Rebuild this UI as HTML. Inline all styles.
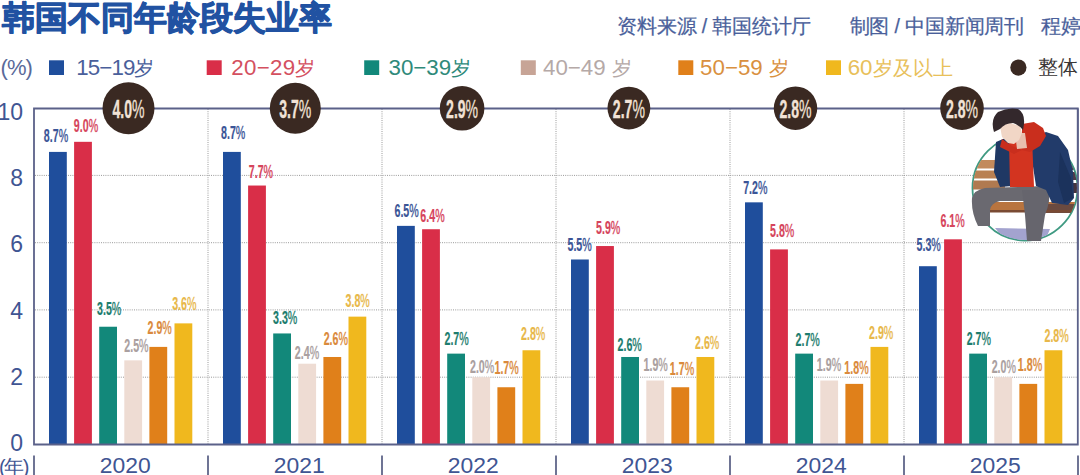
<!DOCTYPE html><html><head><meta charset="utf-8"><style>
html,body{margin:0;padding:0;background:#fff;width:1080px;height:475px;overflow:hidden}
svg{display:block}
text{font-family:"Liberation Sans",sans-serif}
.c{font-weight:bold}
</style></head><body>
<svg width="1080" height="475" viewBox="0 0 1080 475">
<rect width="1080" height="475" fill="#fff"/>
<line x1="35" y1="175.4" x2="1077" y2="175.4" stroke="#9a9a9a" stroke-width="1" stroke-dasharray="1 1.2"/>
<line x1="35" y1="242.7" x2="1077" y2="242.7" stroke="#9a9a9a" stroke-width="1" stroke-dasharray="1 1.2"/>
<line x1="35" y1="309.9" x2="1077" y2="309.9" stroke="#9a9a9a" stroke-width="1" stroke-dasharray="1 1.2"/>
<line x1="35" y1="377.2" x2="1077" y2="377.2" stroke="#9a9a9a" stroke-width="1" stroke-dasharray="1 1.2"/>
<line x1="208" y1="109" x2="208" y2="444" stroke="#9a9a9a" stroke-width="1" stroke-dasharray="1 1.2"/>
<line x1="382" y1="109" x2="382" y2="444" stroke="#9a9a9a" stroke-width="1" stroke-dasharray="1 1.2"/>
<line x1="556" y1="109" x2="556" y2="444" stroke="#9a9a9a" stroke-width="1" stroke-dasharray="1 1.2"/>
<line x1="730" y1="109" x2="730" y2="444" stroke="#9a9a9a" stroke-width="1" stroke-dasharray="1 1.2"/>
<line x1="904" y1="109" x2="904" y2="444" stroke="#9a9a9a" stroke-width="1" stroke-dasharray="1 1.2"/>
<rect x="49.00" y="151.91" width="17.8" height="292.49" fill="#1f4e9c"/>
<rect x="74.10" y="141.82" width="17.8" height="302.58" fill="#d92e48"/>
<rect x="99.20" y="326.73" width="17.8" height="117.67" fill="#12887a"/>
<rect x="124.30" y="360.35" width="17.8" height="84.05" fill="#eedcd3"/>
<rect x="149.40" y="346.90" width="17.8" height="97.50" fill="#e0801a"/>
<rect x="174.50" y="323.37" width="17.8" height="121.03" fill="#f0b81e"/>
<rect x="223.00" y="151.91" width="17.8" height="292.49" fill="#1f4e9c"/>
<rect x="248.10" y="185.53" width="17.8" height="258.87" fill="#d92e48"/>
<rect x="273.20" y="333.45" width="17.8" height="110.95" fill="#12887a"/>
<rect x="298.30" y="363.71" width="17.8" height="80.69" fill="#eedcd3"/>
<rect x="323.40" y="356.99" width="17.8" height="87.41" fill="#e0801a"/>
<rect x="348.50" y="316.64" width="17.8" height="127.76" fill="#f0b81e"/>
<rect x="397.00" y="225.87" width="17.8" height="218.53" fill="#1f4e9c"/>
<rect x="422.10" y="229.23" width="17.8" height="215.17" fill="#d92e48"/>
<rect x="447.20" y="353.63" width="17.8" height="90.77" fill="#12887a"/>
<rect x="472.30" y="377.16" width="17.8" height="67.24" fill="#eedcd3"/>
<rect x="497.40" y="387.25" width="17.8" height="57.15" fill="#e0801a"/>
<rect x="522.50" y="350.26" width="17.8" height="94.14" fill="#f0b81e"/>
<rect x="571.00" y="259.49" width="17.8" height="184.91" fill="#1f4e9c"/>
<rect x="596.10" y="246.04" width="17.8" height="198.36" fill="#d92e48"/>
<rect x="621.20" y="356.99" width="17.8" height="87.41" fill="#12887a"/>
<rect x="646.30" y="380.52" width="17.8" height="63.88" fill="#eedcd3"/>
<rect x="671.40" y="387.25" width="17.8" height="57.15" fill="#e0801a"/>
<rect x="696.50" y="356.99" width="17.8" height="87.41" fill="#f0b81e"/>
<rect x="745.00" y="202.34" width="17.8" height="242.06" fill="#1f4e9c"/>
<rect x="770.10" y="249.40" width="17.8" height="195.00" fill="#d92e48"/>
<rect x="795.20" y="353.63" width="17.8" height="90.77" fill="#12887a"/>
<rect x="820.30" y="380.52" width="17.8" height="63.88" fill="#eedcd3"/>
<rect x="845.40" y="383.88" width="17.8" height="60.52" fill="#e0801a"/>
<rect x="870.50" y="346.90" width="17.8" height="97.50" fill="#f0b81e"/>
<rect x="919.00" y="266.21" width="17.8" height="178.19" fill="#1f4e9c"/>
<rect x="944.10" y="239.32" width="17.8" height="205.08" fill="#d92e48"/>
<rect x="969.20" y="353.63" width="17.8" height="90.77" fill="#12887a"/>
<rect x="994.30" y="377.16" width="17.8" height="67.24" fill="#eedcd3"/>
<rect x="1019.40" y="383.88" width="17.8" height="60.52" fill="#e0801a"/>
<rect x="1044.50" y="350.26" width="17.8" height="94.14" fill="#f0b81e"/>
<path d="M34,108.5 V444.5 H1077.8 V108.5 Z" fill="none" stroke="#5b6189" stroke-width="1.8"/>
<line x1="34" y1="455.5" x2="34" y2="475" stroke="#5f6589" stroke-width="1.8"/>
<line x1="208" y1="455.5" x2="208" y2="475" stroke="#5f6589" stroke-width="1.8"/>
<line x1="382" y1="455.5" x2="382" y2="475" stroke="#5f6589" stroke-width="1.8"/>
<line x1="556" y1="455.5" x2="556" y2="475" stroke="#5f6589" stroke-width="1.8"/>
<line x1="730" y1="455.5" x2="730" y2="475" stroke="#5f6589" stroke-width="1.8"/>
<line x1="904" y1="455.5" x2="904" y2="475" stroke="#5f6589" stroke-width="1.8"/>
<line x1="1078" y1="455.5" x2="1078" y2="475" stroke="#5f6589" stroke-width="1.8"/>
<text x="23" y="119.9" text-anchor="end" font-size="23" fill="#3f5593">10</text>
<text x="23" y="185.9" text-anchor="end" font-size="23" fill="#3f5593">8</text>
<text x="23" y="251.9" text-anchor="end" font-size="23" fill="#3f5593">6</text>
<text x="23" y="319" text-anchor="end" font-size="23" fill="#3f5593">4</text>
<text x="23" y="385" text-anchor="end" font-size="23" fill="#3f5593">2</text>
<text x="23" y="450.8" text-anchor="end" font-size="23" fill="#3f5593">0</text>
<text x="125.3" y="473.2" text-anchor="middle" font-size="22.9" fill="#3f5593">2020</text>
<text x="299.3" y="473.2" text-anchor="middle" font-size="22.9" fill="#3f5593">2021</text>
<text x="473.3" y="473.2" text-anchor="middle" font-size="22.9" fill="#3f5593">2022</text>
<text x="647.3" y="473.2" text-anchor="middle" font-size="22.9" fill="#3f5593">2023</text>
<text x="821.3" y="473.2" text-anchor="middle" font-size="22.9" fill="#3f5593">2024</text>
<text x="995.3" y="473.2" text-anchor="middle" font-size="22.9" fill="#3f5593">2025</text>
<text x="-1" y="474" font-size="20" letter-spacing="-1.5" fill="#3f5593">(年)</text>
<text class="c" transform="translate(56,142.3) scale(0.57,1)" text-anchor="middle" font-size="18.7" fill="#3b5597" stroke="#3b5597" stroke-width="0.2">8.7<tspan font-weight="normal" stroke-width="0.4">%</tspan></text>
<text class="c" transform="translate(86,131.5) scale(0.57,1)" text-anchor="middle" font-size="18.7" fill="#d6455c" stroke="#d6455c" stroke-width="0.2">9.0<tspan font-weight="normal" stroke-width="0.4">%</tspan></text>
<text class="c" transform="translate(109.2,315) scale(0.57,1)" text-anchor="middle" font-size="18.7" fill="#1d7d6e" stroke="#1d7d6e" stroke-width="0.2">3.5<tspan font-weight="normal" stroke-width="0.4">%</tspan></text>
<text class="c" transform="translate(136.4,351.6) scale(0.57,1)" text-anchor="middle" font-size="18.7" fill="#aaa0a0" stroke="#aaa0a0" stroke-width="0.2">2.5<tspan font-weight="normal" stroke-width="0.4">%</tspan></text>
<text class="c" transform="translate(159.7,333.6) scale(0.57,1)" text-anchor="middle" font-size="18.7" fill="#da8a3c" stroke="#da8a3c" stroke-width="0.2">2.9<tspan font-weight="normal" stroke-width="0.4">%</tspan></text>
<text class="c" transform="translate(184.3,310) scale(0.57,1)" text-anchor="middle" font-size="18.7" fill="#e8b84a" stroke="#e8b84a" stroke-width="0.2">3.6<tspan font-weight="normal" stroke-width="0.4">%</tspan></text>
<text class="c" transform="translate(233.2,139.4) scale(0.57,1)" text-anchor="middle" font-size="18.7" fill="#3b5597" stroke="#3b5597" stroke-width="0.2">8.7<tspan font-weight="normal" stroke-width="0.4">%</tspan></text>
<text class="c" transform="translate(260.9,177.6) scale(0.57,1)" text-anchor="middle" font-size="18.7" fill="#d6455c" stroke="#d6455c" stroke-width="0.2">7.7<tspan font-weight="normal" stroke-width="0.4">%</tspan></text>
<text class="c" transform="translate(285.2,323.7) scale(0.57,1)" text-anchor="middle" font-size="18.7" fill="#1d7d6e" stroke="#1d7d6e" stroke-width="0.2">3.3<tspan font-weight="normal" stroke-width="0.4">%</tspan></text>
<text class="c" transform="translate(307,359.2) scale(0.57,1)" text-anchor="middle" font-size="18.7" fill="#aaa0a0" stroke="#aaa0a0" stroke-width="0.2">2.4<tspan font-weight="normal" stroke-width="0.4">%</tspan></text>
<text class="c" transform="translate(335.8,345) scale(0.57,1)" text-anchor="middle" font-size="18.7" fill="#da8a3c" stroke="#da8a3c" stroke-width="0.2">2.6<tspan font-weight="normal" stroke-width="0.4">%</tspan></text>
<text class="c" transform="translate(357.7,307.4) scale(0.57,1)" text-anchor="middle" font-size="18.7" fill="#e8b84a" stroke="#e8b84a" stroke-width="0.2">3.8<tspan font-weight="normal" stroke-width="0.4">%</tspan></text>
<text class="c" transform="translate(406.6,217.4) scale(0.57,1)" text-anchor="middle" font-size="18.7" fill="#3b5597" stroke="#3b5597" stroke-width="0.2">6.5<tspan font-weight="normal" stroke-width="0.4">%</tspan></text>
<text class="c" transform="translate(432.5,222.2) scale(0.57,1)" text-anchor="middle" font-size="18.7" fill="#d6455c" stroke="#d6455c" stroke-width="0.2">6.4<tspan font-weight="normal" stroke-width="0.4">%</tspan></text>
<text class="c" transform="translate(456.6,345) scale(0.57,1)" text-anchor="middle" font-size="18.7" fill="#1d7d6e" stroke="#1d7d6e" stroke-width="0.2">2.7<tspan font-weight="normal" stroke-width="0.4">%</tspan></text>
<text class="c" transform="translate(482.1,372.6) scale(0.57,1)" text-anchor="middle" font-size="18.7" fill="#aaa0a0" stroke="#aaa0a0" stroke-width="0.2">2.0<tspan font-weight="normal" stroke-width="0.4">%</tspan></text>
<text class="c" transform="translate(506.6,374) scale(0.57,1)" text-anchor="middle" font-size="18.7" fill="#da8a3c" stroke="#da8a3c" stroke-width="0.2">1.7<tspan font-weight="normal" stroke-width="0.4">%</tspan></text>
<text class="c" transform="translate(533.2,340.3) scale(0.57,1)" text-anchor="middle" font-size="18.7" fill="#e8b84a" stroke="#e8b84a" stroke-width="0.2">2.8<tspan font-weight="normal" stroke-width="0.4">%</tspan></text>
<text class="c" transform="translate(579.6,250.8) scale(0.57,1)" text-anchor="middle" font-size="18.7" fill="#3b5597" stroke="#3b5597" stroke-width="0.2">5.5<tspan font-weight="normal" stroke-width="0.4">%</tspan></text>
<text class="c" transform="translate(608.2,233.7) scale(0.57,1)" text-anchor="middle" font-size="18.7" fill="#d6455c" stroke="#d6455c" stroke-width="0.2">5.9<tspan font-weight="normal" stroke-width="0.4">%</tspan></text>
<text class="c" transform="translate(629.7,350.8) scale(0.57,1)" text-anchor="middle" font-size="18.7" fill="#1d7d6e" stroke="#1d7d6e" stroke-width="0.2">2.6<tspan font-weight="normal" stroke-width="0.4">%</tspan></text>
<text class="c" transform="translate(655.7,371.2) scale(0.57,1)" text-anchor="middle" font-size="18.7" fill="#aaa0a0" stroke="#aaa0a0" stroke-width="0.2">1.9<tspan font-weight="normal" stroke-width="0.4">%</tspan></text>
<text class="c" transform="translate(682,374.5) scale(0.57,1)" text-anchor="middle" font-size="18.7" fill="#da8a3c" stroke="#da8a3c" stroke-width="0.2">1.7<tspan font-weight="normal" stroke-width="0.4">%</tspan></text>
<text class="c" transform="translate(707.2,349.4) scale(0.57,1)" text-anchor="middle" font-size="18.7" fill="#e8b84a" stroke="#e8b84a" stroke-width="0.2">2.6<tspan font-weight="normal" stroke-width="0.4">%</tspan></text>
<text class="c" transform="translate(755.3,194.1) scale(0.57,1)" text-anchor="middle" font-size="18.7" fill="#3b5597" stroke="#3b5597" stroke-width="0.2">7.2<tspan font-weight="normal" stroke-width="0.4">%</tspan></text>
<text class="c" transform="translate(782.2,237.3) scale(0.57,1)" text-anchor="middle" font-size="18.7" fill="#d6455c" stroke="#d6455c" stroke-width="0.2">5.8<tspan font-weight="normal" stroke-width="0.4">%</tspan></text>
<text class="c" transform="translate(807.7,345.5) scale(0.57,1)" text-anchor="middle" font-size="18.7" fill="#1d7d6e" stroke="#1d7d6e" stroke-width="0.2">2.7<tspan font-weight="normal" stroke-width="0.4">%</tspan></text>
<text class="c" transform="translate(829,371.1) scale(0.57,1)" text-anchor="middle" font-size="18.7" fill="#aaa0a0" stroke="#aaa0a0" stroke-width="0.2">1.9<tspan font-weight="normal" stroke-width="0.4">%</tspan></text>
<text class="c" transform="translate(856.5,373.9) scale(0.57,1)" text-anchor="middle" font-size="18.7" fill="#da8a3c" stroke="#da8a3c" stroke-width="0.2">1.8<tspan font-weight="normal" stroke-width="0.4">%</tspan></text>
<text class="c" transform="translate(881.2,339.4) scale(0.57,1)" text-anchor="middle" font-size="18.7" fill="#e8b84a" stroke="#e8b84a" stroke-width="0.2">2.9<tspan font-weight="normal" stroke-width="0.4">%</tspan></text>
<text class="c" transform="translate(928.7,250.6) scale(0.57,1)" text-anchor="middle" font-size="18.7" fill="#3b5597" stroke="#3b5597" stroke-width="0.2">5.3<tspan font-weight="normal" stroke-width="0.4">%</tspan></text>
<text class="c" transform="translate(952.6,226.9) scale(0.57,1)" text-anchor="middle" font-size="18.7" fill="#d6455c" stroke="#d6455c" stroke-width="0.2">6.1<tspan font-weight="normal" stroke-width="0.4">%</tspan></text>
<text class="c" transform="translate(978.8,345.1) scale(0.57,1)" text-anchor="middle" font-size="18.7" fill="#1d7d6e" stroke="#1d7d6e" stroke-width="0.2">2.7<tspan font-weight="normal" stroke-width="0.4">%</tspan></text>
<text class="c" transform="translate(1003.8,372.6) scale(0.57,1)" text-anchor="middle" font-size="18.7" fill="#aaa0a0" stroke="#aaa0a0" stroke-width="0.2">2.0<tspan font-weight="normal" stroke-width="0.4">%</tspan></text>
<text class="c" transform="translate(1030,371) scale(0.57,1)" text-anchor="middle" font-size="18.7" fill="#da8a3c" stroke="#da8a3c" stroke-width="0.2">1.8<tspan font-weight="normal" stroke-width="0.4">%</tspan></text>
<text class="c" transform="translate(1056.6,341.8) scale(0.57,1)" text-anchor="middle" font-size="18.7" fill="#e8b84a" stroke="#e8b84a" stroke-width="0.2">2.8<tspan font-weight="normal" stroke-width="0.4">%</tspan></text>
<circle cx="128.5" cy="108.2" r="26.0" fill="#3a2922"/>
<text class="c" transform="translate(128.5,118.4) scale(0.55,1)" text-anchor="middle" font-size="25.6" fill="#f1e2d6" stroke="#f1e2d6" stroke-width="0.35">4.0<tspan font-weight="normal" stroke-width="0.3">%</tspan></text>
<circle cx="295.3" cy="108.3" r="25.5" fill="#3a2922"/>
<text class="c" transform="translate(295.3,118.4) scale(0.55,1)" text-anchor="middle" font-size="25.6" fill="#f1e2d6" stroke="#f1e2d6" stroke-width="0.35">3.7<tspan font-weight="normal" stroke-width="0.3">%</tspan></text>
<circle cx="462.1" cy="108.3" r="22.3" fill="#3a2922"/>
<text class="c" transform="translate(462.1,118.4) scale(0.55,1)" text-anchor="middle" font-size="25.6" fill="#f1e2d6" stroke="#f1e2d6" stroke-width="0.35">2.9<tspan font-weight="normal" stroke-width="0.3">%</tspan></text>
<circle cx="628.9" cy="108.1" r="21.4" fill="#3a2922"/>
<text class="c" transform="translate(628.9,118.4) scale(0.55,1)" text-anchor="middle" font-size="25.6" fill="#f1e2d6" stroke="#f1e2d6" stroke-width="0.35">2.7<tspan font-weight="normal" stroke-width="0.3">%</tspan></text>
<circle cx="795.5" cy="108.2" r="21.75" fill="#3a2922"/>
<text class="c" transform="translate(795.5,118.4) scale(0.55,1)" text-anchor="middle" font-size="25.6" fill="#f1e2d6" stroke="#f1e2d6" stroke-width="0.35">2.8<tspan font-weight="normal" stroke-width="0.3">%</tspan></text>
<circle cx="962" cy="108.1" r="21.8" fill="#3a2922"/>
<text class="c" transform="translate(962,118.4) scale(0.55,1)" text-anchor="middle" font-size="25.6" fill="#f1e2d6" stroke="#f1e2d6" stroke-width="0.35">2.8<tspan font-weight="normal" stroke-width="0.3">%</tspan></text>
<text x="2" y="29" font-size="33" font-weight="bold" fill="#2152a2" stroke="#2152a2" stroke-width="1.1" stroke-linejoin="round">韩国不同年龄段失业率</text>
<text x="617.3" y="33" font-size="19.5" letter-spacing="-0.2" fill="#4a5f9b" stroke="#4a5f9b" stroke-width="0.25">资料来源 / 韩国统计厅</text>
<text x="849.6" y="33" font-size="19.5" letter-spacing="-0.15" fill="#4a5f9b" stroke="#4a5f9b" stroke-width="0.25">制图 / 中国新闻周刊</text>
<text x="1041" y="33" font-size="19.5" fill="#4a5f9b" stroke="#4a5f9b" stroke-width="0.25">程婷</text>
<text x="0.5" y="75.3" font-size="22" letter-spacing="-0.9" fill="#5a6a9a">(%)</text>
<rect x="49" y="60.3" width="15" height="14.7" fill="#1f4e9c"/>
<text x="76.3" y="74.5" font-size="22.3" fill="#4a5f9b" xml:space="preserve"><tspan letter-spacing="-0.9">15−19</tspan><tspan font-size="19.6">岁</tspan></text>
<rect x="206.7" y="60.3" width="15" height="14.7" fill="#d92e48"/>
<text x="231.3" y="74.5" font-size="22.3" fill="#d4505f" xml:space="preserve"><tspan letter-spacing="0.3">20−29</tspan><tspan font-size="19.6">岁</tspan></text>
<rect x="364.2" y="60.3" width="15" height="14.7" fill="#12887a"/>
<text x="388.5" y="74.5" font-size="22.3" fill="#2f8a7a" xml:space="preserve"><tspan letter-spacing="0">30−39</tspan><tspan font-size="19.6">岁</tspan></text>
<rect x="520.8" y="60.3" width="15" height="14.7" fill="#c7a496"/>
<text x="543.0" y="74.5" font-size="22.3" fill="#b5a9a7" xml:space="preserve"><tspan letter-spacing="0">40−49 </tspan><tspan font-size="19.6">岁</tspan></text>
<rect x="678.3" y="60.3" width="15" height="14.7" fill="#e0801a"/>
<text x="700.0999999999999" y="74.5" font-size="22.3" fill="#d99040" xml:space="preserve"><tspan letter-spacing="0">50−59 </tspan><tspan font-size="19.6">岁</tspan></text>
<rect x="826" y="60.3" width="15" height="14.7" fill="#f0b81e"/>
<text x="847.6999999999999" y="74.5" font-size="22.3" fill="#e8c05a" xml:space="preserve"><tspan letter-spacing="0">60</tspan><tspan font-size="19.6">岁及以上</tspan></text>
<circle cx="1018.4" cy="67.6" r="8.1" fill="#3a2922"/>
<text x="1038" y="74.3" font-size="19.6" fill="#3a3636">整体</text>
<defs><clipPath id="cc"><circle cx="1025" cy="188" r="52"/></clipPath></defs>
<circle cx="1025" cy="188" r="52.5" fill="#fff" stroke="#3f9a82" stroke-width="1.8"/>
<g clip-path="url(#cc)">
<rect x="970" y="160" width="35" height="8.5" fill="#c28a5c"/>
<rect x="970" y="170.5" width="35" height="8" fill="#b98052"/>
<rect x="970" y="180.5" width="35" height="9" fill="#b07a50"/>
<rect x="1050" y="160" width="30" height="10" fill="#5a4552"/>
<rect x="1050" y="172" width="30" height="8" fill="#4d3b4a"/>
<rect x="1050" y="183" width="30" height="10" fill="#44343f"/>
<rect x="985" y="202" width="95" height="10" fill="#b8743f"/>
<rect x="1040" y="204" width="40" height="9" fill="#6a4a40"/>
<rect x="985" y="210" width="95" height="2.5" fill="#7a4a33"/>
<path d="M995,228 L1050,229 L1045,241 L1005,240 Z" fill="#a3a3cf"/>
</g>
<path d="M1045,186 Q1051,192 1047,201 L1000,201 Q991,203 990,210 L990,226 L978,226 Q971,212 972,198 Q974,190 985,188 Z" fill="#6a6970"/>
<path d="M1022,190 L1049,190 Q1051,200 1045,215 L1041,241 L1027,241 L1025,215 Z" fill="#66656d"/>
<path d="M996,142 L1008,137 L1014,140 L1012,186 L1000,187 L994,172 Z" fill="#1f3864"/>
<path d="M1030,138 L1046,132 L1058,136 L1068,150 L1073,172 L1074,198 L1068,205 L1052,203 L1046,190 L1036,186 L1032,160 Z" fill="#223b6a"/>
<path d="M1060,152 L1071,178 L1073,198 L1064,203 L1058,182 Z" fill="#1b325c"/>
<path d="M1009,140 L1020,140 L1032,137 L1034,187 L1010,187 Z" fill="#d33420"/>
<path d="M1022,124 L1034,122 L1043,128 L1046,136 L1040,146 L1030,152 L1022,150 Z" fill="#c92e1d"/>
<path d="M1002,139 L1012,146 L1022,150 L1014,154 L1000,147 Z" fill="#c92e1d"/>
<path d="M1015,133 L1025,133 L1027,148 L1017,149 Z" fill="#e8bfae"/>
<path d="M1000,126 L1010,123 L1020,126 L1022,133 L1019,140 L1014,144 L1008,143 L1002,137 Z" fill="#f1d6c6"/>
<path d="M994,132 Q990,119 998,112 Q1008,107 1018,109 Q1025,113 1024,124 L1023,130 Q1019,125 1013,123 Q1005,123 1000,129 Z" fill="#33282c"/>

<line x1="1077.8" y1="108.5" x2="1077.8" y2="250" stroke="#5b6189" stroke-width="1.8"/>
</svg></body></html>
